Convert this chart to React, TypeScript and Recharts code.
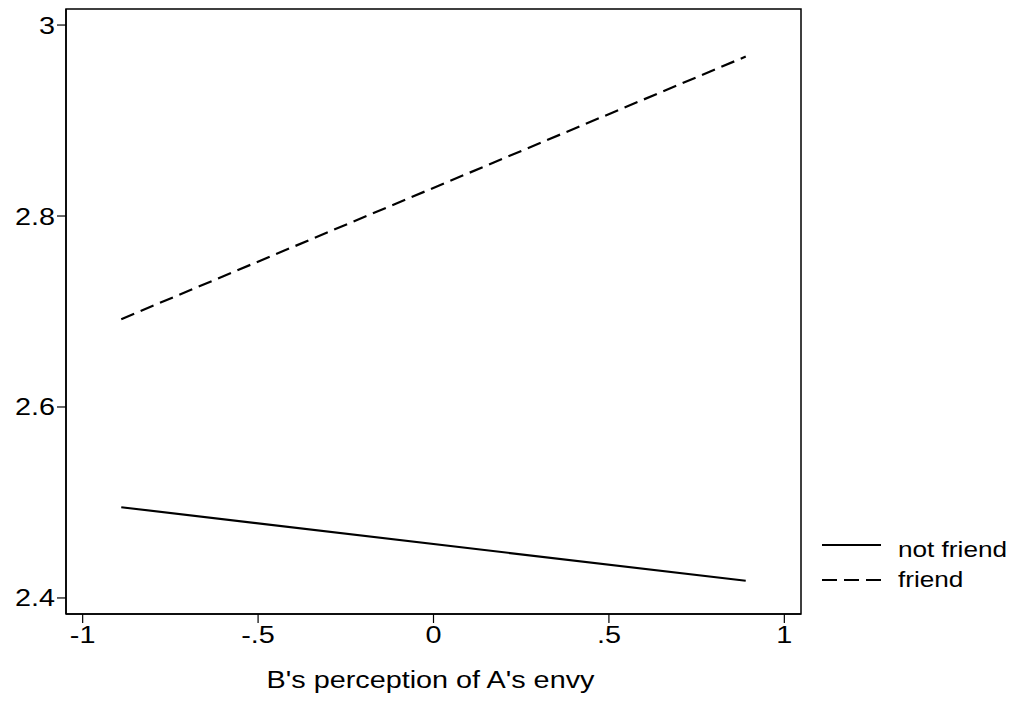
import { LineChart, Line, XAxis, YAxis, Legend, ReferenceArea } from 'recharts';

const envyX = [-0.89, 0.89];
const notFriend = [2.495, 2.418];
const friend = [2.692, 2.967];
const xTicks = [-1, -0.5, 0, 0.5, 1];
const yTicks = [2.4, 2.6, 2.8, 3];

const seriesInfo = [
  { key: 'notFriend', label: 'not friend', dash: undefined as string | undefined },
  { key: 'friend', label: 'friend', dash: '14 7' },
];

const data = envyX.map((x, i) => ({ x, notFriend: notFriend[i], friend: friend[i] }));

const xDomain: [number, number] = [-1.0475, 1.0475];
const yDomain: [number, number] = [2.3832, 3.0168];

const fmtX = (v: number): string => {
  if (v === 0) return '0';
  if (Math.abs(v) === 1) return String(v);
  return (v < 0 ? '-' : '') + String(Math.abs(v)).replace(/^0/, '');
};

const font = '"Liberation Sans", Arial, sans-serif';
const FS = 24;
const SX = 1.2; // the stata export is stretched sideways

// text stretched horizontally around its anchor point
const Wide = ({ x, y, anchor, size = FS, children }: { x: number; y: number; anchor: string; size?: number; children: any }) => (
  <text
    transform={`translate(${x},${y}) scale(${SX},1)`}
    textAnchor={anchor}
    fontSize={size}
    fontFamily={font}
    fill="#000"
  >
    {children}
  </text>
);

const XTick = (props: any) => {
  const { x, y, payload } = props;
  return <Wide x={x} y={y + 18} anchor="middle">{fmtX(payload.value)}</Wide>;
};

const YTick = (props: any) => {
  const { x, y, payload } = props;
  return <Wide x={x} y={y + 8.5} anchor="end">{String(payload.value)}</Wide>;
};

const XTitle = (props: any) => {
  const vb = props.viewBox || {};
  return <Wide x={vb.x + vb.width / 2 - 3} y={688} anchor="middle">B's perception of A's envy</Wide>;
};

const LegendBox = () => (
  <svg width={200} height={80}>
    {seriesInfo.map((s, i) => (
      <g key={s.key}>
        <line
          x1={7}
          x2={66}
          y1={10 + i * 35}
          y2={10 + i * 35}
          stroke="#000"
          strokeWidth={2}
          strokeDasharray={s.dash ? '15 7' : undefined}
        />
        <Wide x={83} y={22 + i * 30} anchor="start" size={21.8}>{s.label}</Wide>
      </g>
    ))}
  </svg>
);

const App = () => {
  return (
    <div style={{ position: 'absolute', left: 0, top: 0, background: '#fff' }}>
      <LineChart
        width={1018}
        height={702}
        data={data}
        margin={{ top: 9, right: 17, bottom: 0, left: 0 }}
      >
        <XAxis
          dataKey="x"
          type="number"
          domain={xDomain}
          ticks={xTicks}
          height={88}
          tickSize={9}
          axisLine={{ stroke: '#000', strokeWidth: 1.5 }}
          tickLine={{ stroke: '#000', strokeWidth: 1.2 }}
          tick={<XTick />}
          label={{ content: XTitle }}
        />
        <YAxis
          type="number"
          domain={yDomain}
          ticks={yTicks}
          width={66}
          tickSize={9}
          axisLine={{ stroke: '#000', strokeWidth: 1.5 }}
          tickLine={{ stroke: '#000', strokeWidth: 1.2 }}
          tick={<YTick />}
        />
        <ReferenceArea
          x1={xDomain[0]}
          x2={xDomain[1]}
          y1={yDomain[0]}
          y2={yDomain[1]}
          fill="none"
          stroke="#000"
          strokeWidth={1.5}
          ifOverflow="visible"
        />
        <Legend
          layout="vertical"
          verticalAlign="top"
          align="right"
          content={() => <LegendBox />}
          wrapperStyle={{ left: 815, top: 535, width: 200 }}
        />
        {seriesInfo.map((s) => (
          <Line
            key={s.key}
            type="linear"
            dataKey={s.key}
            name={s.label}
            stroke="#000"
            strokeWidth={2.2}
            strokeDasharray={s.dash}
            dot={false}
            activeDot={false}
            isAnimationActive={false}
          />
        ))}
      </LineChart>
    </div>
  );
};

export default App;
